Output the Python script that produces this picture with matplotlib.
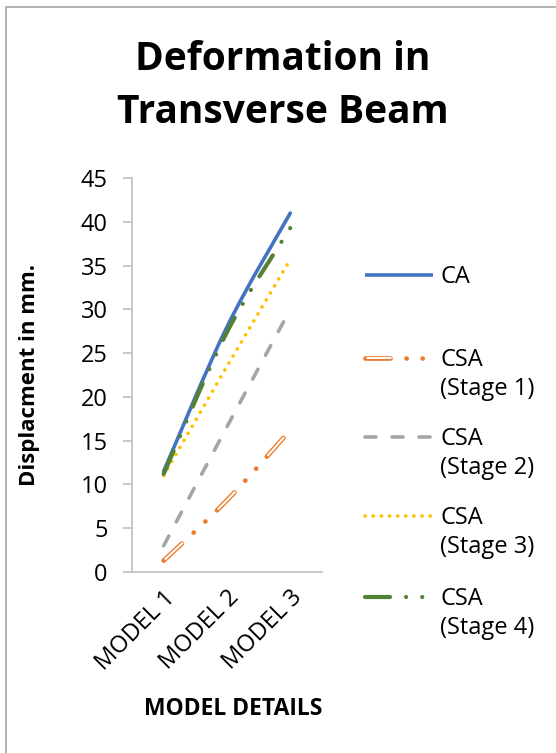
import matplotlib
matplotlib.use("Agg")
import matplotlib.pyplot as plt
from matplotlib.path import Path
from matplotlib.patches import PathPatch, Rectangle
from matplotlib.lines import Line2D
import numpy as np

plt.rcParams['font.family'] = ['Open Sans', 'DejaVu Sans']
plt.rcParams['lines.scale_dashes'] = False

# данные графика
models = ['MODEL 1', 'MODEL 2', 'MODEL 3']
ca = [11.5, 28.0, 41.0]
csa_stage1 = [1.3, 8.2, 16.2]
csa_stage2 = [3.0, 16.6, 30.0]
csa_stage3 = [11.0, 23.5, 35.7]
csa_stage4 = [11.2, 27.4, 39.3]
series_names = [['CA'], ['CSA', '(Stage 1)'], ['CSA', '(Stage 2)'], ['CSA', '(Stage 3)'], ['CSA', '(Stage 4)']]
y_ticks = [0, 5, 10, 15, 20, 25, 30, 35, 40, 45]

W, H = 556, 753
fig = plt.figure(figsize=(W / 100, H / 100), dpi=100)


def fx(px):
    return px / W


def fy(py):
    return 1 - py / H


ax = fig.add_axes([fx(132), fy(572), fx(322) - fx(132), fy(178) - fy(572)])


def smooth_path(xs, ys):
    # сглаженная линия как в Excel (кривые Безье через точки)
    pts = np.column_stack([xs, ys]).astype(float)
    n = len(pts)
    verts = [pts[0]]
    codes = [Path.MOVETO]
    for i in range(n - 1):
        p0 = pts[max(i - 1, 0)]
        p1 = pts[i]
        p2 = pts[i + 1]
        p3 = pts[min(i + 2, n - 1)]
        c1 = p1 + (p2 - p0) / 6
        c2 = p2 - (p3 - p1) / 6
        verts += [c1, c2, p2]
        codes += [Path.CURVE4] * 3
    return Path(verts, codes)


pt = 0.72  # пикселей -> пункты
dash_dot_dot = (0, (25 * pt, 16 * pt, 0.1, 16 * pt, 0.1, 16 * pt))
white_dash = (-1.5 * pt, (25 * pt, 48 * pt))

styles = [
    [dict(color='#4472C4', lw=2.6, ls='solid', cap='round')],
    [dict(color='#ED7D31', lw=3.4, ls=dash_dot_dot, cap='round'),
     dict(color='white', lw=1.4, ls=white_dash, cap='butt')],
    [dict(color='#A5A5A5', lw=2.6, ls=(0, (11 * pt, 16 * pt)), cap='round')],
    [dict(color='#FFC000', lw=2.6, ls=(0, (0.1, 8 * pt)), cap='round')],
    [dict(color='#548235', lw=3.0, ls=dash_dot_dot, cap='round')],
]
data = [ca, csa_stage1, csa_stage2, csa_stage3, csa_stage4]
x = np.arange(len(models))

for vals, st in zip(data, styles):
    for s in st:
        patch = PathPatch(smooth_path(x, vals), fill=False, edgecolor=s['color'],
                          lw=s['lw'], linestyle=s['ls'], capstyle=s['cap'], zorder=3)
        ax.add_patch(patch)

ax.set_xlim(-0.5, 2.5)
ax.set_ylim(0, 45)
ax.set_yticks(y_ticks)
ax.set_xticks(x)
ax.set_xticklabels(models, rotation=45, ha='right', va='top', rotation_mode='anchor', fontsize=17)
ax.tick_params(axis='x', length=0, pad=10)
ax.tick_params(axis='y', length=6.5, width=1.2, color='#BFBFBF', labelsize=17, pad=11)
for side in ['top', 'right']:
    ax.spines[side].set_visible(False)
for side in ['left', 'bottom']:
    ax.spines[side].set_color('#BFBFBF')
    ax.spines[side].set_linewidth(1.2)

fig.text(fx(30), fy(375), 'Displacment in mm.', rotation=90, ha='center', va='center',
         fontsize=16, fontweight='bold')
fig.text(fx(233), fy(709), 'MODEL DETAILS', ha='center', va='center', fontsize=16.5, fontweight='bold')

fig.text(fx(283), fy(70), 'Deformation in', ha='center', va='baseline', fontsize=28, fontweight='bold')
fig.text(fx(283), fy(123), 'Transverse Beam', ha='center', va='baseline', fontsize=28, fontweight='bold')

# легенда справа
legend_y = [275, 358, 437, 516, 597]
for name, st, ly in zip(series_names, styles, legend_y):
    for s in st:
        fig.add_artist(Line2D([fx(365), fx(433)], [fy(ly), fy(ly)], transform=fig.transFigure,
                              color=s['color'], lw=s['lw'], ls=s['ls'],
                              solid_capstyle='butt', dash_capstyle=s['cap']))
    for i, line in enumerate(name):
        fig.text(fx(440), fy(ly + 8 + 29 * i), line, ha='left', va='baseline', fontsize=17)

# рамка диаграммы
fig.add_artist(Rectangle((fx(6), fy(H + 20)), fx(W + 20), fy(7) - fy(H + 20),
                         transform=fig.transFigure, fill=False, edgecolor='#A6A6A6', lw=1.2))

fig.savefig('out.png', dpi=100)
